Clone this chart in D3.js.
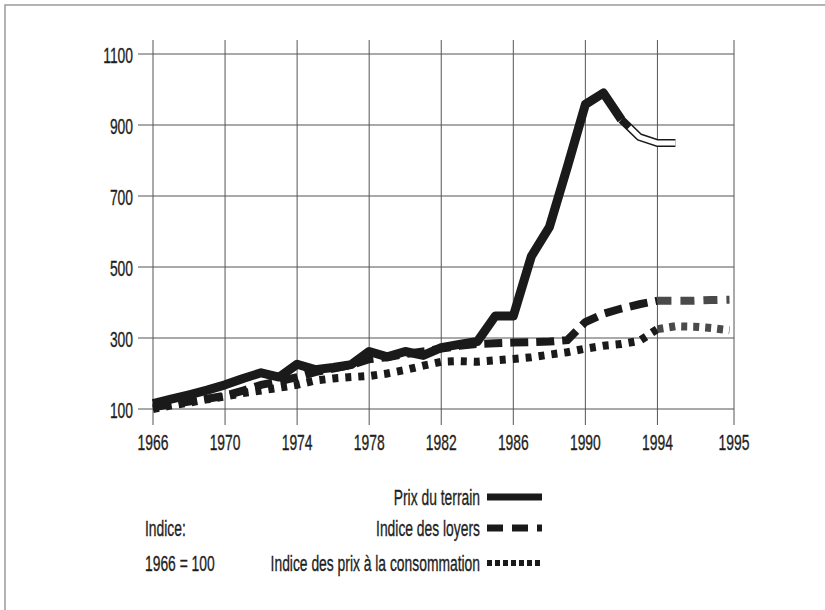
<!DOCTYPE html>
<html>
<head>
<meta charset="utf-8">
<script src="https://cdn.jsdelivr.net/npm/d3@7"></script>
<style>
  body { margin: 0; background: #fff; }
  text { font-family: "Liberation Sans", Arial, sans-serif; fill: #1e1e1e; stroke: #1e1e1e; stroke-width: 0.35; }
</style>
</head>
<body>
<div id="chart"></div>
<script>
let width = 825;
let height = 610;

// years 1966 -> 1998 (the last grid line is labelled "1995" in the original)
let years = d3.range(1966, 1999);

let prixTerrain = [115, 128, 140, 153, 168, 186, 202, 190, 226, 211, 217, 225, 262, 247, 262, 251, 273, 282, 290, 362, 362, 530, 612, 782, 958, 990, 915];
let prixTerrainProjYears = [1992, 1993, 1994, 1995];
let prixTerrainProj = [915, 866, 849, 849];

let loyers = [105, 113, 121, 129, 137, 152, 168, 178, 190, 204, 214, 224, 240, 246, 255, 262, 270, 278, 283, 285, 287, 288, 290, 294, 345, 368, 383, 395, 405, 405, 405, 407, 408];
let prixConso = [100, 110, 118, 127, 135, 145, 152, 160, 168, 180, 186, 190, 193, 200, 210, 222, 233, 235, 233, 237, 241, 246, 253, 260, 270, 278, 283, 292, 325, 333, 332, 328, 322];
// from 1994 on the two indices are drawn hatched (estimates)
let estimStart = 1994;

let yTicks = [100, 300, 500, 700, 900, 1100];
let xTicks = [1966, 1970, 1974, 1978, 1982, 1986, 1990, 1994, 1998.25];
let xTickLabels = ["1966", "1970", "1974", "1978", "1982", "1986", "1990", "1994", "1995"];

let legendLabels = ["Prix du terrain", "Indice des loyers", "Indice des prix à la consommation"];
let noteLabels = ["Indice:", "1966 = 100"];

let svg = d3.select('#chart').append('svg')
  .attr('width', width)
  .attr('height', height)

let x = d3.scaleLinear().domain([1966, 1998.25]).range([153, 734]);
let y = d3.scaleLinear().domain([100, 1100]).range([409, 54]);

// frame of the scanned page
svg.append('path')
  .attr('d', 'M5,' + height + 'V5H' + width)
  .attr('fill', 'none')
  .attr('stroke', '#9a9a9a')
  .attr('stroke-width', 1.5)

let sx = 0.63; // condensed lettering

function label(g, tx, ty, str, anchor) {
  g.append('text')
    .attr('transform', 'translate(' + tx + ',' + ty + ') scale(' + sx + ',1)')
    .attr('text-anchor', anchor)
    .attr('dominant-baseline', 'central')
    .attr('font-size', 22)
    .text(str)
}

// grid
let grid = svg.append('g');
grid.selectAll('.hgrid')
  .data(yTicks)
  .enter()
  .append('line').classed('hgrid', true)
  .attr('x1', 138)
  .attr('x2', x(xTicks[xTicks.length - 1]))
  .attr('y1', d => y(d))
  .attr('y2', d => y(d))
  .attr('stroke', '#555')
  .attr('stroke-width', 1)

grid.selectAll('.vgrid')
  .data(xTicks)
  .enter()
  .append('line').classed('vgrid', true)
  .attr('x1', d => x(d))
  .attr('x2', d => x(d))
  .attr('y1', 40)
  .attr('y2', 425)
  .attr('stroke', '#555')
  .attr('stroke-width', 1)

yTicks.forEach(function(d) {
  label(svg, 133, y(d) + 1, d, 'end');
});
xTicks.forEach(function(d, i) {
  label(svg, x(d), 442, xTickLabels[i], 'middle');
});

let line = d3.line()
  .x(d => x(d[0]))
  .y(d => y(d[1]))

let prixData = prixTerrain.map((v, i) => [years[i], v]);
let projData = prixTerrainProj.map((v, i) => [prixTerrainProjYears[i], v]);
let loyersData = loyers.map((v, i) => [years[i], v]);
let consoData = prixConso.map((v, i) => [years[i], v]);

let plot = svg.append('g');

// consumer price index: square dots
plot.append('path')
  .datum(consoData.filter(d => d[0] <= estimStart))
  .attr('d', line)
  .attr('fill', 'none')
  .attr('stroke', '#1a1a1a')
  .attr('stroke-width', 8)
  .attr('stroke-dasharray', '6,7')
plot.append('path')
  .datum(consoData.filter(d => d[0] >= estimStart))
  .attr('d', line)
  .attr('fill', 'none')
  .attr('stroke', '#4a4a4a')
  .attr('stroke-width', 8)
  .attr('stroke-dasharray', '6,6')

// rents: dashes
plot.append('path')
  .datum(loyersData.filter(d => d[0] <= estimStart))
  .attr('d', line)
  .attr('fill', 'none')
  .attr('stroke', '#1a1a1a')
  .attr('stroke-width', 8)
  .attr('stroke-dasharray', '18,8')
plot.append('path')
  .datum(loyersData.filter(d => d[0] >= estimStart))
  .attr('d', line)
  .attr('fill', 'none')
  .attr('stroke', '#4a4a4a')
  .attr('stroke-width', 8)
  .attr('stroke-dasharray', '14,9')

// land price: solid, then hollow for the last years
plot.append('path')
  .datum(prixData)
  .attr('d', line)
  .attr('fill', 'none')
  .attr('stroke', '#1a1a1a')
  .attr('stroke-width', 9)
  .attr('stroke-linejoin', 'round')
plot.append('path')
  .datum(projData)
  .attr('d', line)
  .attr('fill', 'none')
  .attr('stroke', '#1a1a1a')
  .attr('stroke-width', 8)
plot.append('path')
  .datum(projData)
  .attr('d', line)
  .attr('fill', 'none')
  .attr('stroke', '#fff')
  .attr('stroke-width', 5)
  .attr('stroke-dasharray', '0,11,1000')

// legend
let legend = svg.append('g');
let legY = [497, 528, 563];
let legStyle = [
  { w: 7, dash: null },
  { w: 7, dash: '16,9' },
  { w: 6, dash: '5,3' }
];
legendLabels.forEach(function(d, i) {
  label(legend, 480, legY[i], d, 'end');
  legend.append('line')
    .attr('x1', 487)
    .attr('x2', 542)
    .attr('y1', legY[i])
    .attr('y2', legY[i])
    .attr('stroke', '#1a1a1a')
    .attr('stroke-width', legStyle[i].w)
    .attr('stroke-dasharray', legStyle[i].dash)
});
noteLabels.forEach(function(d, i) {
  label(legend, 145, legY[i + 1], d, 'start');
});
</script>
</body>
</html>
